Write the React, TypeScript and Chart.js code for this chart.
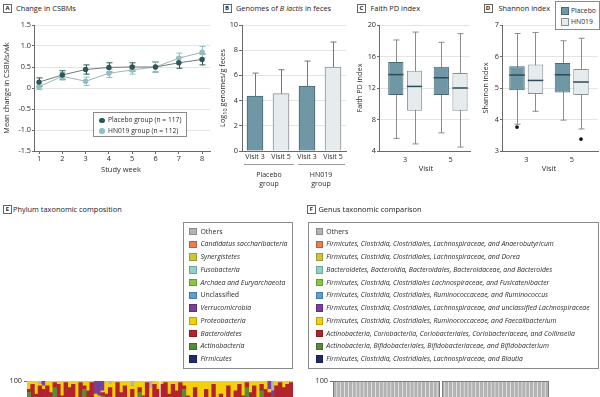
import React, { useEffect, useRef } from "react";
import { Chart, registerables } from "chart.js";

Chart.register(...registerables);

const FONT = "'Open Sans', Lato, 'DejaVu Sans', sans-serif";
const TXT = "#2b2b2b";
Chart.defaults.font.family = FONT;

// ---------------- Panel A: change in CSBMs ----------------
const weeks = [1, 2, 3, 4, 5, 6, 7, 8];
const csbmTicks = [-1.5, -1, -0.5, 0, 0.5, 1, 1.5];
const placeboCsbm = [0.14, 0.31, 0.44, 0.49, 0.5, 0.5, 0.6, 0.68];
const placeboCsbmErr = [0.1, 0.1, 0.11, 0.11, 0.1, 0.12, 0.13, 0.13];
const hn019Csbm = [0.03, 0.28, 0.16, 0.35, 0.43, 0.5, 0.71, 0.85];
const hn019CsbmErr = [0.07, 0.09, 0.1, 0.1, 0.1, 0.13, 0.12, 0.14];

// ---------------- Panel B: B lactis genomes ----------------
const bVisits = ["Visit 3", "Visit 5", "Visit 3", "Visit 5"];
const bGenomes = [4.35, 4.55, 5.15, 6.66];
const bGenomesUpper = [6.18, 6.45, 7.14, 8.65];
const bGroups = ["Placebo", "HN019"];

// ---------------- Panels C / D: box plots ----------------
const visitNums = [3, 5];
const faithPlaceboMin = [5.6, 6.3];
const faithPlaceboQ1 = [11.1, 11.1];
const faithPlaceboMed = [13.7, 13.3];
const faithPlaceboQ3 = [15.3, 14.7];
const faithPlaceboMax = [18.1, 17.8];
const faithHnMin = [4.9, 4.5];
const faithHnQ1 = [9.1, 9.1];
const faithHnMed = [12.2, 12.0];
const faithHnQ3 = [14.2, 13.9];
const faithHnMax = [19.1, 18.9];

const shannonPlaceboMin = [3.85, 3.98];
const shannonPlaceboQ1 = [4.93, 4.86];
const shannonPlaceboMed = [5.41, 5.42];
const shannonPlaceboQ3 = [5.69, 5.79];
const shannonPlaceboMax = [6.73, 6.5];
const shannonPlaceboOut = [[3.76], []];
const shannonHnMin = [4.26, 3.7];
const shannonHnQ1 = [4.81, 4.78];
const shannonHnMed = [5.24, 5.19];
const shannonHnQ3 = [5.75, 5.6];
const shannonHnMax = [6.76, 6.58];
const shannonHnOut = [[], [3.38]];

// ---------------- Panel E: phylum composition (%) ----------------
const phylumPlaceboFirmicutes = [83,65,82,60,63,56,66,84,62,69,59,65,68,66,61,86,63,68,63,57,83,62,63,66,59,66,66,65,62,69,84,66,62,66,58,65];
const phylumPlaceboActino = [10,3,6,2,4,1,2,12,3,2,2,1,4,2,3,9,1,2,2,2,8,3,1,2,4,2,1,3,2,2,9,1,3,2,3,2];
const phylumPlaceboBactero = [2,30,4,35,28,40,25,3,33,20,38,30,26,22,35,2,30,29,24,30,2,27,32,20,36,25,30,22,31,18,3,24,34,22,37,28];
const phylumPlaceboProteo = [5,2,8,1,2,3,7,1,2,9,1,4,2,10,1,3,6,1,3,2,1,8,2,12,1,7,3,10,2,11,4,9,1,6,2,5];
const phylumPlaceboVerruco = [0,0,0,0,3,0,0,0,0,0,0,0,0,0,0,0,0,0,8,9,6,0,0,0,0,0,0,0,0,0,0,0,0,0,0,0];
const phylumPlaceboOthers = [0,0,0,2,0,0,0,0,0,0,0,0,0,0,0,0,0,0,0,0,0,0,2,0,0,0,0,0,3,0,0,0,0,4,0,0];
const phylumHnFirmicutes = [62,66,82,61,66,62,85,64,65,64,64,67,64,78,61,64,63,76,62,63,61,61,62,85,62,62,65,85,61,63,58,62,60,64,59,62];
const phylumHnActino = [2,3,6,1,2,4,10,2,3,1,2,2,1,5,2,3,1,6,2,2,3,1,2,11,2,1,2,9,3,2,1,2,3,2,1,2];
const phylumHnBactero = [34,30,4,36,26,33,2,25,20,31,24,18,30,6,35,21,28,4,33,25,30,36,27,3,29,34,22,4,31,28,30,33,36,30,38,35];
const phylumHnProteo = [2,1,8,2,6,1,3,9,12,4,10,13,5,11,2,12,8,14,3,10,6,2,9,1,7,3,11,2,5,2,1,3,1,4,2,1];
const phylumHnVerruco = [0,0,0,0,0,0,0,0,0,0,0,0,0,0,0,0,0,0,0,0,0,0,0,0,0,0,0,0,0,5,4,0,0,0,0,0];
const phylumHnOthers = [0,0,0,0,0,0,0,0,0,0,0,0,0,0,0,0,0,0,0,0,0,0,0,0,0,0,0,0,0,0,6,0,0,0,0,0];
const phylumMinor: number[] = [];

const phylumNames = ["Others", "Candidatus saccharibacteria", "Synergistetes", "Fusobacteria", "Archaea and Euryarchaeota", "Unclassified", "Verrucomicrobia", "Proteobacteria", "Bacteroidetes", "Actinobacteria", "Firmicutes"];
const phylumColors = ["#b3b3b3", "#ee7b55", "#c9c83c", "#90d2c5", "#8cc43f", "#5b9fd6", "#7b3f99", "#f4d00c", "#b3232b", "#5a8a38", "#1f2a6b"];
const phylumRoman = ["Others", "Unclassified"];

// ---------------- Panel F: genus comparison (%) ----------------
const genusPlaceboBlautia = [12,15,10,18,9,14,11,16,13,8,17,12,10,15,9,14,19,11,13,8,16,12,10,15,11,17,9,14];
const genusPlaceboBifido = [8,3,12,2,6,10,4,7,3,14,5,9,2,11,6,4,8,3,10,5,2,13,6,4,9,3,7,5];
const genusPlaceboCollinsella = [3,2,4,1,5,2,3,2,6,2,3,1,4,3,2,5,2,3,1,4,2,3,5,2,3,1,4,2];
const genusPlaceboFaecali = [6,8,5,9,7,4,10,6,8,5,7,9,6,4,11,5,7,8,6,9,5,7,10,6,4,8,9,5];
const genusPlaceboUnclLachno = [5,6,4,7,5,6,5,4,7,5,6,4,8,5,6,7,4,6,5,7,5,4,6,8,5,6,4,7];
const genusPlaceboRumino = [4,3,6,2,5,3,4,6,2,5,3,4,6,3,5,2,4,5,3,6,4,3,5,2,6,4,3,5];
const genusPlaceboFusicat = [3,4,2,5,3,4,2,3,4,3,2,5,3,4,2,3,4,3,2,4,3,5,2,3,4,3,2,4];
const genusPlaceboBacteroides = [10,14,6,12,15,8,18,5,11,9,13,7,16,10,12,8,14,6,15,11,9,13,7,17,10,12,8,14];
const genusPlaceboDorea = [2,2,3,2,1,3,2,2,2,3,1,2,2,3,2,1,2,3,2,2,1,3,2,2,1,2,3,2];
const genusPlaceboAnaero = [2,1,2,1,2,2,1,3,1,2,2,1,2,1,2,3,1,2,1,2,2,1,2,1,3,1,2,1];
const genusPlaceboOthers = [45,42,46,41,42,44,40,46,43,44,41,46,41,41,43,48,35,50,42,42,51,36,45,40,44,43,49,41];
const genusHnBlautia = [11,14,9,16,12,10,15,8,13,11,17,9,12,14,10,16,8,13,11,15,9,12,14,10,16,8,13,11];
const genusHnBifido = [15,18,12,20,14,22,11,17,19,13,16,21,10,18,15,12,23,14,19,13,17,20,11,16,14,21,12,18];
const genusHnCollinsella = [2,3,4,2,1,3,2,5,2,3,1,4,2,3,2,5,2,3,1,4,2,3,2,5,1,3,2,4];
const genusHnFaecali = [6,5,8,4,7,5,9,6,4,8,5,7,6,4,9,5,7,6,8,5,6,4,9,6,5,7,6,8];
const genusHnUnclLachno = [5,4,6,5,7,4,5,6,5,4,6,5,7,4,6,5,4,6,5,7,4,5,6,4,5,7,4,5];
const genusHnRumino = [4,3,5,2,4,3,5,2,4,6,3,4,5,2,4,3,5,2,4,3,5,4,3,2,4,5,3,4];
const genusHnFusicat = [3,4,2,3,4,2,3,4,3,2,4,3,2,4,3,2,4,3,2,4,3,2,4,3,2,4,3,2];
const genusHnBacteroides = [9,7,11,6,10,8,12,7,9,13,6,8,14,7,10,9,6,12,8,10,7,11,8,13,6,9,10,7];
const genusHnDorea = [2,2,3,1,2,2,1,3,2,2,1,2,3,2,1,2,2,1,3,2,2,1,2,3,2,1,2,2];
const genusHnAnaero = [2,1,2,1,2,1,2,1,2,1,2,1,2,1,2,1,2,1,2,1,2,1,2,1,2,1,2,1];
const genusHnOthers = [41,39,38,40,37,40,35,41,37,37,39,36,37,41,38,40,37,39,37,36,43,37,39,37,43,34,43,38];

const genusNames = [
  "Others",
  "Firmicutes, Clostridia, Clostridiales, Lachnospiraceae, and Anaerobutyricum",
  "Firmicutes, Clostridia, Clostridiales, Lachnospiraceae, and Dorea",
  "Bacteroidetes, Bacteroidia, Bacteroidales, Bacteroidaceae, and Bacteroides",
  "Firmicutes, Clostridia, Clostridiales Lachnospiraceae, and Fusicatenibacter",
  "Firmicutes, Clostridia, Clostridiales, Ruminococcaceae, and Ruminococcus",
  "Firmicutes, Clostridia, Clostridiales, Lachnospiraceae, and unclassified Lachnospiraceae",
  "Firmicutes, Clostridia, Clostridiales, Ruminococcaceae, and Faecalibacterium",
  "Actinobacteria, Coriobacteriia, Coriobacteriales, Coriobacteriaceae, and Collinsella",
  "Actinobacteria, Bifidobacteriales, Bifidobacteriaceae, and Bifidobacterium",
  "Firmicutes, Clostridia, Clostridiales, Lachnospiraceae, and Blautia",
];
const genusColors = phylumColors;

// ---------------- styles ----------------
const PLACEBO_DOT = "#2d5757";
const HN_DOT = "#8fbfc2";
const BOX_DARK = "#6f97a6";
const BOX_DARK_EDGE = "#4b6774";
const BOX_LIGHT = "#e6ebee";
const BOX_LIGHT_EDGE = "#8a9095";
const AXIS = "#6a6a6a";
const GRID = "#e4e4e4";
const tickFont = { family: FONT, size: 7.3 };

const fixW = (w: number) => (s: any) => { s.width = w; };
const fixH = (h: number) => (s: any) => { s.height = h; };
const baseOpts = {
  animation: false,
  responsive: false,
  devicePixelRatio: 1,
  events: [],
};

const csbmErrorPlugin = {
  id: "csbmErr",
  beforeDatasetsDraw(chart: any) {
    const { ctx, scales } = chart;
    chart.data.datasets.forEach((ds: any) => {
      if (!ds.errors) return;
      ctx.save();
      ctx.strokeStyle = ds.errColor;
      ctx.lineWidth = 1;
      ds.data.forEach((p: any, i: number) => {
        const x = Math.round(scales.x.getPixelForValue(p.x)) + 0.5;
        const yt = scales.y.getPixelForValue(p.y + ds.errors[i]);
        const yb = scales.y.getPixelForValue(p.y - ds.errors[i]);
        ctx.beginPath();
        ctx.moveTo(x, yt); ctx.lineTo(x, yb);
        ctx.moveTo(x - 3, yt); ctx.lineTo(x + 3, yt);
        ctx.moveTo(x - 3, yb); ctx.lineTo(x + 3, yb);
        ctx.stroke();
      });
      ctx.restore();
    });
  },
};

const upperErrorPlugin = {
  id: "upperErr",
  afterDatasetsDraw(chart: any) {
    const { ctx, scales } = chart;
    chart.data.datasets.forEach((ds: any, di: number) => {
      if (!ds.upper) return;
      const meta = chart.getDatasetMeta(di);
      ctx.save();
      ctx.strokeStyle = "#777";
      ctx.lineWidth = 1;
      meta.data.forEach((el: any, i: number) => {
        const x = Math.round(el.x) + 0.5;
        const yt = scales.y.getPixelForValue(ds.upper[i]);
        ctx.beginPath();
        ctx.moveTo(x, el.y); ctx.lineTo(x, yt);
        ctx.moveTo(x - 3, yt); ctx.lineTo(x + 3, yt);
        ctx.stroke();
      });
      ctx.restore();
    });
  },
};

const boxPlotPlugin = {
  id: "boxPlot",
  beforeDatasetsDraw(chart: any) {
    const { ctx, scales } = chart;
    chart.data.datasets.forEach((ds: any, di: number) => {
      const meta = chart.getDatasetMeta(di);
      ctx.save();
      ctx.strokeStyle = "#8c8c8c";
      ctx.lineWidth = 1;
      meta.data.forEach((el: any, i: number) => {
        const x = Math.round(el.x) + 0.5;
        const yMin = scales.y.getPixelForValue(ds.box.min[i]);
        const yMax = scales.y.getPixelForValue(ds.box.max[i]);
        ctx.beginPath();
        ctx.moveTo(x, yMax); ctx.lineTo(x, yMin);
        ctx.moveTo(x - 3, yMax); ctx.lineTo(x + 3, yMax);
        ctx.moveTo(x - 3, yMin); ctx.lineTo(x + 3, yMin);
        ctx.stroke();
      });
      ctx.restore();
    });
  },
  afterDatasetsDraw(chart: any) {
    const { ctx, scales } = chart;
    chart.data.datasets.forEach((ds: any, di: number) => {
      const meta = chart.getDatasetMeta(di);
      ctx.save();
      meta.data.forEach((el: any, i: number) => {
        const ym = scales.y.getPixelForValue(ds.box.med[i]);
        ctx.strokeStyle = "#2c4b57";
        ctx.lineWidth = 1.5;
        ctx.beginPath();
        ctx.moveTo(el.x - el.width / 2, ym); ctx.lineTo(el.x + el.width / 2, ym);
        ctx.stroke();
        (ds.box.out[i] || []).forEach((o: number) => {
          ctx.fillStyle = "#111";
          ctx.beginPath();
          ctx.arc(el.x, scales.y.getPixelForValue(o), 1.9, 0, Math.PI * 2);
          ctx.fill();
        });
      });
      ctx.restore();
    });
  },
};

const groupFramePlugin = {
  id: "groupFrame",
  afterDatasetsDraw(chart: any, _a: any, opts: any) {
    const { ctx, chartArea, scales } = chart;
    const x = scales.x;
    const step = x.getPixelForValue(1) - x.getPixelForValue(0);
    const b = x.getPixelForValue(opts.groupSize - 1) + step / 2;
    const h = chartArea.bottom - chartArea.top;
    ctx.save();
    ctx.fillStyle = "#fff";
    ctx.fillRect(b - opts.gap / 2, chartArea.top, opts.gap, h);
    if (opts.frame) {
      ctx.strokeStyle = opts.frame;
      ctx.lineWidth = 1;
      ctx.strokeRect(chartArea.left + 0.5, chartArea.top + 0.5, b - opts.gap / 2 - chartArea.left - 1, h + 5);
      ctx.strokeRect(b + opts.gap / 2 + 0.5, chartArea.top + 0.5, chartArea.right - b - opts.gap / 2 - 1, h + 5);
    }
    ctx.restore();
  },
};

function configA() {
  return {
    type: "line",
    data: {
      datasets: [
        {
          label: "Placebo group (n = 117)",
          data: weeks.map((w, i) => ({ x: w, y: placeboCsbm[i] })),
          errors: placeboCsbmErr, errColor: PLACEBO_DOT,
          borderColor: "#6d7a7b", borderWidth: 1,
          pointRadius: 2.7, pointBackgroundColor: PLACEBO_DOT, pointBorderWidth: 0,
        },
        {
          label: "HN019 group (n = 112)",
          data: weeks.map((w, i) => ({ x: w, y: hn019Csbm[i] })),
          errors: hn019CsbmErr, errColor: HN_DOT,
          borderColor: "#9fb4b6", borderWidth: 1,
          pointRadius: 2.7, pointBackgroundColor: HN_DOT, pointBorderWidth: 0,
        },
      ],
    },
    options: {
      ...baseOpts,
      layout: { padding: { top: 10, right: 5, left: 0, bottom: 0 } },
      plugins: { legend: { display: false }, tooltip: { enabled: false } },
      scales: {
        x: {
          type: "linear", min: 0.785, max: 8.34,
          afterBuildTicks: (s: any) => { s.ticks = weeks.map((v) => ({ value: v })); },
          afterFit: fixH(34),
          grid: { drawOnChartArea: false, tickLength: 3, tickColor: AXIS },
          border: { color: AXIS },
          ticks: { font: tickFont, color: TXT, padding: 1 },
        },
        y: {
          min: -1.5, max: 1.5,
          afterBuildTicks: (s: any) => { s.ticks = csbmTicks.map((v) => ({ value: v })); },
          afterFit: fixW(34),
          grid: { color: GRID, tickLength: 2, tickColor: AXIS },
          border: { color: AXIS },
          ticks: { font: tickFont, color: TXT, padding: 1, callback: (v: any) => (v === 0 ? "0" : Number(v).toFixed(1)) },
        },
      },
    },
    plugins: [csbmErrorPlugin],
  };
}

function configB() {
  return {
    type: "bar",
    data: {
      labels: bVisits,
      datasets: [
        {
          data: bGenomes,
          upper: bGenomesUpper,
          backgroundColor: [BOX_DARK, BOX_LIGHT, BOX_DARK, BOX_LIGHT],
          borderColor: [BOX_DARK_EDGE, BOX_LIGHT_EDGE, BOX_DARK_EDGE, BOX_LIGHT_EDGE],
          borderWidth: 1,
          borderSkipped: "bottom",
          barThickness: 16,
        },
      ],
    },
    options: {
      ...baseOpts,
      layout: { padding: { top: 10, right: 4, left: 0, bottom: 0 } },
      plugins: { legend: { display: false }, tooltip: { enabled: false } },
      scales: {
        x: {
          afterFit: fixH(34),
          grid: { display: false, drawTicks: false, tickLength: 0 },
          border: { color: AXIS },
          ticks: { font: { family: FONT, size: 7 }, color: TXT, padding: 2, maxRotation: 0, autoSkip: false },
        },
        y: {
          min: 0, max: 10,
          ticks: { stepSize: 2, font: tickFont, color: TXT, padding: 1 },
          afterFit: fixW(27),
          grid: { color: GRID, tickLength: 3, tickColor: AXIS },
          border: { color: AXIS },
        },
      },
    },
    plugins: [upperErrorPlugin],
  };
}

function boxDataset(q1: number[], q3: number[], min: number[], med: number[], max: number[], out: number[][], dark: boolean) {
  return {
    data: visitNums.map((v, i) => ({ x: v, y: [q1[i], q3[i]] })),
    box: { min, med, max, out },
    backgroundColor: dark ? BOX_DARK : BOX_LIGHT,
    borderColor: dark ? BOX_DARK_EDGE : BOX_LIGHT_EDGE,
    borderWidth: 1,
    borderSkipped: false,
  };
}

function configBox(opts: any) {
  return {
    type: "bar",
    data: { datasets: opts.datasets },
    options: {
      ...baseOpts,
      layout: { padding: { top: 10, right: opts.padR, left: 0, bottom: 0 } },
      plugins: { legend: { display: false }, tooltip: { enabled: false } },
      datasets: { bar: { categoryPercentage: opts.cat, barPercentage: opts.bar } },
      scales: {
        x: {
          type: "linear", min: opts.xMin, max: opts.xMax, offset: false,
          afterBuildTicks: (s: any) => { s.ticks = visitNums.map((v) => ({ value: v })); },
          afterFit: fixH(34),
          grid: { display: false, drawTicks: false, tickLength: 0, offset: false },
          border: { color: AXIS },
          ticks: { font: tickFont, color: TXT, padding: 5 },
        },
        y: {
          min: opts.yMin, max: opts.yMax,
          ticks: { stepSize: opts.step, font: tickFont, color: TXT, padding: 1 },
          afterFit: fixW(opts.yW),
          grid: { color: GRID, tickLength: 2, tickColor: AXIS },
          border: { color: AXIS },
        },
      },
    },
    plugins: [boxPlotPlugin],
  };
}

function configC() {
  return configBox({
    datasets: [
      boxDataset(faithPlaceboQ1, faithPlaceboQ3, faithPlaceboMin, faithPlaceboMed, faithPlaceboMax, [[], []], true),
      boxDataset(faithHnQ1, faithHnQ3, faithHnMin, faithHnMed, faithHnMax, [[], []], false),
    ],
    xMin: 1.849, xMax: 5.85, yMin: 4, yMax: 20, step: 4, yW: 29, padR: 5, cat: 0.822, bar: 0.815,
  });
}

function configD() {
  return configBox({
    datasets: [
      boxDataset(shannonPlaceboQ1, shannonPlaceboQ3, shannonPlaceboMin, shannonPlaceboMed, shannonPlaceboMax, shannonPlaceboOut, true),
      boxDataset(shannonHnQ1, shannonHnQ3, shannonHnMin, shannonHnMed, shannonHnMax, shannonHnOut, false),
    ],
    xMin: 1.934, xMax: 6.154, yMin: 3, yMax: 7, step: 1, yW: 27, padR: 2, cat: 0.813, bar: 0.838,
  });
}

function stackedConfig(labels: string[], datasets: any[], yW: number, padR: number, frame: any, barPct: number) {
  return {
    type: "bar",
    data: { labels, datasets },
    options: {
      ...baseOpts,
      layout: { padding: { top: 9, right: padR, left: 0, bottom: 0 } },
      plugins: {
        legend: { display: false }, tooltip: { enabled: false },
        groupFrame: frame,
      },
      datasets: { bar: { categoryPercentage: 1, barPercentage: barPct, borderWidth: 0 } },
      scales: {
        x: { stacked: true, display: false },
        y: {
          stacked: true, min: 0, max: 100,
          ticks: { stepSize: 25, font: tickFont, color: TXT, padding: 2 },
          afterFit: fixW(yW),
          grid: { drawOnChartArea: false, tickLength: 3, tickColor: AXIS },
          border: { display: false },
        },
      },
    },
    plugins: [groupFramePlugin],
  };
}

function configE() {
  const labels = [
    ...phylumPlaceboFirmicutes.map((_, i) => `Placebo ${i + 1}`),
    ...phylumHnFirmicutes.map((_, i) => `HN019 ${i + 1}`),
  ];
  const series: [string, number[], number[]][] = [
    ["Firmicutes", phylumPlaceboFirmicutes, phylumHnFirmicutes],
    ["Actinobacteria", phylumPlaceboActino, phylumHnActino],
    ["Bacteroidetes", phylumPlaceboBactero, phylumHnBactero],
    ["Proteobacteria", phylumPlaceboProteo, phylumHnProteo],
    ["Verrucomicrobia", phylumPlaceboVerruco, phylumHnVerruco],
    ["Unclassified", phylumMinor, phylumMinor],
    ["Archaea and Euryarchaeota", phylumMinor, phylumMinor],
    ["Fusobacteria", phylumMinor, phylumMinor],
    ["Synergistetes", phylumMinor, phylumMinor],
    ["Candidatus saccharibacteria", phylumMinor, phylumMinor],
    ["Others", phylumPlaceboOthers, phylumHnOthers],
  ];
  const datasets = series.map(([name, a, b]) => ({
    label: name,
    data: a.length ? [...a, ...b] : [],
    backgroundColor: phylumColors[phylumNames.indexOf(name)],
  }));
  return stackedConfig(labels, datasets, 27, 7, { groupSize: phylumPlaceboFirmicutes.length, gap: 1.2, frame: null }, 1);
}

function configF() {
  const labels = [
    ...genusPlaceboBlautia.map((_, i) => `Placebo ${i + 1}`),
    ...genusHnBlautia.map((_, i) => `HN019 ${i + 1}`),
  ];
  const series: [number, number[], number[]][] = [
    [10, genusPlaceboBlautia, genusHnBlautia],
    [9, genusPlaceboBifido, genusHnBifido],
    [8, genusPlaceboCollinsella, genusHnCollinsella],
    [7, genusPlaceboFaecali, genusHnFaecali],
    [6, genusPlaceboUnclLachno, genusHnUnclLachno],
    [5, genusPlaceboRumino, genusHnRumino],
    [4, genusPlaceboFusicat, genusHnFusicat],
    [3, genusPlaceboBacteroides, genusHnBacteroides],
    [2, genusPlaceboDorea, genusHnDorea],
    [1, genusPlaceboAnaero, genusHnAnaero],
    [0, genusPlaceboOthers, genusHnOthers],
  ];
  const datasets = series.map(([k, a, b]) => ({
    label: genusNames[k],
    data: [...a, ...b],
    backgroundColor: genusColors[k],
  }));
  return stackedConfig(labels, datasets, 33, 51, { groupSize: genusPlaceboBlautia.length, gap: 2, frame: "#7d7d7d" }, 0.86);
}

function ChartCanvas({ left, top, width, height, make }: any) {
  const ref = useRef<HTMLCanvasElement>(null);
  useEffect(() => {
    const chart = new Chart(ref.current as HTMLCanvasElement, make());
    return () => chart.destroy();
  }, []);
  return <canvas ref={ref} width={width} height={height} style={{ position: "absolute", left, top, width, height }} />;
}

function Txt({ x, y, size = 7.5, align = "left", children, style = {} }: any) {
  const tx = align === "center" ? "-50%" : align === "right" ? "-100%" : "0";
  return (
    <div style={{ position: "absolute", left: x, top: y, transform: `translate(${tx},-50%)`, fontSize: size, lineHeight: 1, whiteSpace: "nowrap", fontFamily: FONT, color: TXT, ...style }}>
      {children}
    </div>
  );
}

function VTxt({ x, y, size = 7.3, children }: any) {
  return (
    <div style={{ position: "absolute", left: x, top: y, transform: "translate(-50%,-50%) rotate(-90deg)", fontSize: size, lineHeight: 1, whiteSpace: "nowrap", fontFamily: FONT, color: TXT }}>
      {children}
    </div>
  );
}

function Tag({ x, y, letter }: any) {
  return (
    <div style={{ position: "absolute", left: x, top: y, width: 9, height: 9, boxSizing: "border-box", border: "1px solid #666", fontSize: 6, fontWeight: 700, lineHeight: "7px", textAlign: "center", fontFamily: FONT, color: "#222" }}>
      {letter}
    </div>
  );
}

function Title({ tagX, textX, y, letter, children }: any) {
  return (
    <>
      <Tag x={tagX} y={y - 4.5} letter={letter} />
      <Txt x={textX} y={y} size={7.4} style={{ color: "#222" }}>{children}</Txt>
    </>
  );
}

function Swatch({ x, y, color, size = 7.5 }: any) {
  return <div style={{ position: "absolute", left: x, top: y - size / 2, width: size, height: size, background: color, boxSizing: "border-box", border: "1px solid rgba(0,0,0,0.22)" }} />;
}

const legendRowY = (i: number) => 231.7 + i * 12.73;

export default function App() {
  return (
    <div style={{ position: "fixed", left: 0, top: 0, width: 600, height: 397, overflow: "hidden", background: "#fff", fontFamily: FONT }}>
      {/* Panel titles */}
      <Title tagX={3} textX={16} y={8.5} letter="A">Change in CSBMs</Title>
      <Title tagX={222.5} textX={236} y={8.5} letter="B">Genomes of <i>B lactis</i> in feces</Title>
      <Title tagX={357} textX={370.5} y={8.5} letter="C">Faith PD index</Title>
      <Title tagX={483.5} textX={498.5} y={8.5} letter="D">Shannon index</Title>

      {/* Charts */}
      <ChartCanvas left={0} top={15} width={215} height={170} make={configA} />
      <ChartCanvas left={215} top={15} width={135} height={170} make={configB} />
      <ChartCanvas left={350} top={15} width={125} height={170} make={configC} />
      <ChartCanvas left={475} top={15} width={125} height={170} make={configD} />
      <ChartCanvas left={0} top={372} width={300} height={180} make={configE} />
      <ChartCanvas left={300} top={372} width={300} height={180} make={configF} />

      {/* Panel A text & legend */}
      <VTxt x={7} y={88}>Mean change in CSBMs/wk</VTxt>
      <Txt x={121} y={170} align="center">Study week</Txt>
      <div style={{ position: "absolute", left: 93, top: 112, width: 94, height: 25, boxSizing: "border-box", border: "1px solid #8a8a8a", background: "#fff" }} />
      <div style={{ position: "absolute", left: 99, top: 117.5, width: 5.5, height: 5.5, borderRadius: "50%", background: PLACEBO_DOT }} />
      <div style={{ position: "absolute", left: 99, top: 128, width: 5.5, height: 5.5, borderRadius: "50%", background: HN_DOT }} />
      <Txt x={108} y={120.3} size={6.7}>Placebo group (n = 117)</Txt>
      <Txt x={108} y={130.8} size={6.7}>HN019 group (n = 112)</Txt>

      {/* Panel B text */}
      <VTxt x={224} y={88}>Log<sub style={{ fontSize: 5.5 }}>10</sub> genomes/g feces</VTxt>
      <div style={{ position: "absolute", left: 244, top: 164, width: 50, borderTop: "1px solid #9a9a9a" }} />
      <div style={{ position: "absolute", left: 298, top: 164, width: 47, borderTop: "1px solid #9a9a9a" }} />
      <Txt x={269} y={174} size={7} align="center">{bGroups[0]}</Txt>
      <Txt x={269} y={182.5} size={7} align="center">group</Txt>
      <Txt x={321} y={174} size={7} align="center">{bGroups[1]}</Txt>
      <Txt x={321} y={182.5} size={7} align="center">group</Txt>

      {/* Panel C text */}
      <VTxt x={360} y={88}>Faith PD index</VTxt>
      <Txt x={426} y={169} align="center">Visit</Txt>

      {/* Panel D text & legend */}
      <VTxt x={486} y={88}>Shannon index</VTxt>
      <Txt x={549} y={169} align="center">Visit</Txt>
      <div style={{ position: "absolute", left: 555, top: 1, width: 45, height: 29, boxSizing: "border-box", border: "1px solid #8a8a8a", background: "#fff" }} />
      <div style={{ position: "absolute", left: 561, top: 7, width: 8, height: 8, boxSizing: "border-box", background: BOX_DARK, border: `1px solid ${BOX_DARK_EDGE}` }} />
      <div style={{ position: "absolute", left: 561, top: 18, width: 8, height: 8, boxSizing: "border-box", background: BOX_LIGHT, border: `1px solid ${BOX_LIGHT_EDGE}` }} />
      <Txt x={571} y={11} size={6.8}>Placebo</Txt>
      <Txt x={571} y={22} size={6.8}>HN019</Txt>

      {/* Panel E */}
      <Title tagX={3} textX={13} y={209.7} letter="E">Phylum taxonomic composition</Title>
      <div style={{ position: "absolute", left: 183, top: 222, width: 110, height: 147, boxSizing: "border-box", border: "1px solid #8a8a8a" }} />
      {phylumNames.map((n, i) => (
        <React.Fragment key={n}>
          <Swatch x={189.3} y={legendRowY(i)} color={phylumColors[i]} />
          <Txt x={200.5} y={legendRowY(i)} size={6.9} style={{ fontStyle: phylumRoman.includes(n) ? "normal" : "italic" }}>{n}</Txt>
        </React.Fragment>
      ))}

      {/* Panel F */}
      <Title tagX={307} textX={318.5} y={209.7} letter="F">Genus taxonomic comparison</Title>
      <div style={{ position: "absolute", left: 308, top: 222, width: 291, height: 147, boxSizing: "border-box", border: "1px solid #8a8a8a" }} />
      {genusNames.map((n, i) => (
        <React.Fragment key={n}>
          <Swatch x={315.7} y={legendRowY(i)} color={genusColors[i]} />
          <Txt x={326.3} y={legendRowY(i)} size={6.85} style={{ fontStyle: i === 0 ? "normal" : "italic" }}>{n}</Txt>
        </React.Fragment>
      ))}
    </div>
  );
}
